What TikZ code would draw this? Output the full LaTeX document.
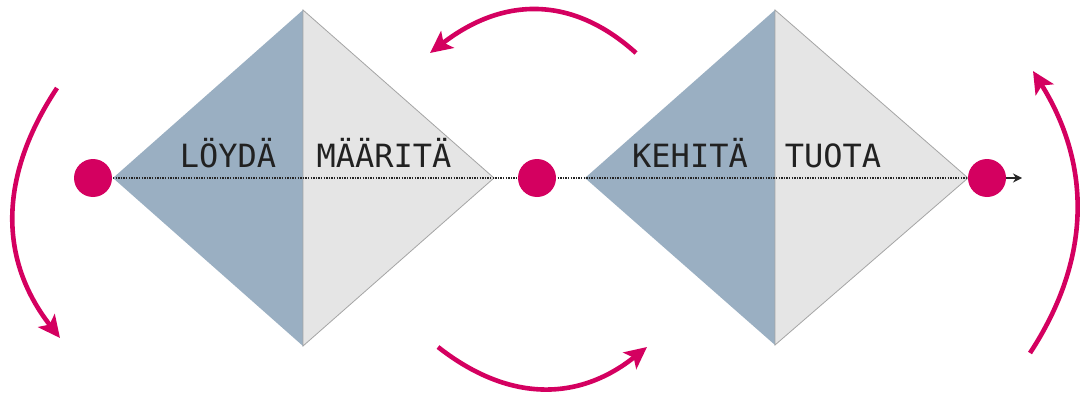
\documentclass[tikz,border=0pt]{standalone}
\usepackage{fontspec}
\newfontfamily\monof{DejaVu Sans Mono}
\usetikzlibrary{arrows.meta}
\definecolor{mag}{RGB}{212,0,96}
\definecolor{bluegrey}{RGB}{154,175,194}
\definecolor{lightgrey}{RGB}{229,229,229}
\definecolor{edgegrey}{RGB}{165,165,165}
\tikzset{
  dot/.style={circle,fill=mag,draw=none,minimum size=38pt,inner sep=0pt},
  label/.style={font=\monof\fontsize{32}{32}\selectfont,text=black!87,inner sep=0pt,anchor=base},
  cyc/.style={draw=mag,line width=4.6pt,-{Stealth[length=22pt,width=21pt,inset=5pt]}},
  axis/.style={draw=black!85,line width=1.4pt,dash pattern=on 1.4pt off 1.2pt},
  lefthalf/.style={fill=bluegrey,draw=none},
  righthalf/.style={fill=lightgrey,draw=edgegrey,line width=0.8pt}
}
\begin{document}
\begin{tikzpicture}[x=1pt,y=-1pt]
\useasboundingbox[fill=white] (0,0) rectangle (1081,396);
% diamond 1
\coordinate (d1l) at (113,178);
\coordinate (d1t) at (303,10);
\coordinate (d1r) at (494,178);
\coordinate (d1b) at (303,346);
\path[lefthalf] (d1l) -- (d1t) -- (d1b) -- cycle;
\path[righthalf] (d1t) -- (d1r) -- (d1b) -- cycle;
% diamond 2
\coordinate (d2l) at (585,178);
\coordinate (d2t) at (775,10);
\coordinate (d2r) at (968,178);
\coordinate (d2b) at (775,345);
\path[lefthalf] (d2l) -- (d2t) -- (d2b) -- cycle;
\path[righthalf] (d2t) -- (d2r) -- (d2b) -- cycle;
% labels
\node[label] (loyda) at (228,167) {LÖYDÄ};
\node[label] (maarita) at (384,167) {MÄÄRITÄ};
\node[label] (kehita) at (690,167) {KEHITÄ};
\node[label] (tuota) at (833,167) {TUOTA};
% axis
\coordinate (axend) at (1022,178);
\draw[axis] (d1l) -- (d2r);
% dots
\node[dot] (p1) at (93,178) {};
\node[dot] (p2) at (537,178) {};
\node[dot] (p3) at (987,178) {};
\draw[draw=black!85,line width=1.6pt,-{Stealth[length=9pt,width=9pt]}] (p3.east) -- (axend);
% cycle arrows
\coordinate (a1s) at (57,88);
\coordinate (a1e) at (60,338);
\draw[cyc] (a1s) .. controls (-2,177) and (-1,260) .. (a1e);
\coordinate (a2s) at (636,53);
\coordinate (a2e) at (430,53);
\draw[cyc] (a2s) .. controls (573,-4) and (504,-4) .. (a2e);
\coordinate (a3s) at (438,347);
\coordinate (a3e) at (647,347);
\draw[cyc] (a3s) .. controls (508,402) and (578,402) .. (a3e);
\coordinate (a4s) at (1030,353);
\coordinate (a4e) at (1033,71);
\draw[cyc] (a4s) .. controls (1091,260) and (1092,166) .. (a4e);
\end{tikzpicture}
\end{document}
